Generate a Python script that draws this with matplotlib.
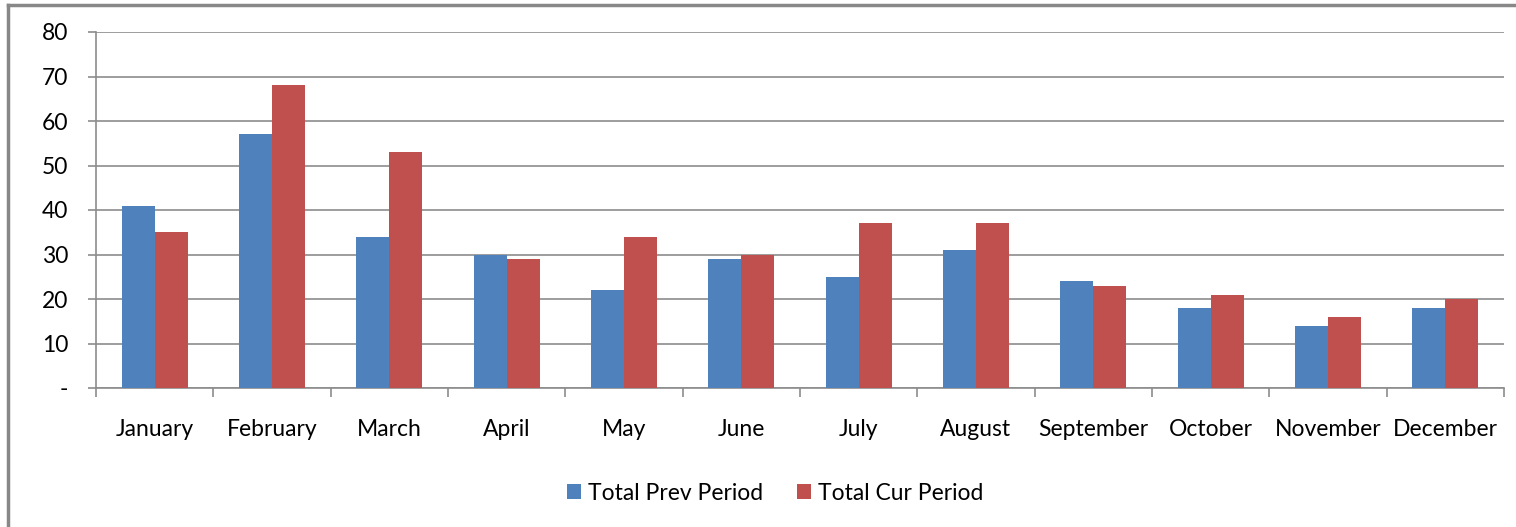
import matplotlib
matplotlib.use("Agg")
import matplotlib.pyplot as plt
import numpy as np
from matplotlib.lines import Line2D

plt.rcParams["font.family"] = ["Lato", "DejaVu Sans"]

months = ["January", "February", "March", "April", "May", "June",
          "July", "August", "September", "October", "November", "December"]
prev_period = [41, 57, 34, 30, 22, 29, 25, 31, 24, 18, 14, 18]
cur_period = [35, 68, 53, 29, 34, 30, 37, 37, 23, 21, 16, 20]
y_ticks = [0, 10, 20, 30, 40, 50, 60, 70, 80]
y_labels = ["-", "10", "20", "30", "40", "50", "60", "70", "80"]

BLUE = "#4F81BD"
RED = "#C0504D"
GRID = "#8C8C8C"
FS = 16.5

fig = plt.figure(figsize=(15.16, 5.27), dpi=100)
ax = fig.add_axes([96 / 1516, 1 - 388 / 527, 1408 / 1516, 356 / 527])

x = np.arange(len(months))
w = 0.28
ax.bar(x - w / 2, prev_period, w, color=BLUE, zorder=3, label="Total Prev Period")
ax.bar(x + w / 2, cur_period, w, color=RED, zorder=3, label="Total Cur Period")

ax.set_xlim(-0.5, len(months) - 0.5)
ax.set_ylim(0, 80)
ax.set_yticks(y_ticks)
ax.set_yticklabels(y_labels)
ax.yaxis.grid(True, color=GRID, linewidth=1.2, zorder=0)

# category labels at centres, tick marks between categories
ax.set_xticks(x)
ax.set_xticklabels(months)
ax.tick_params(axis="x", length=0, pad=22, labelsize=FS)
ax.set_xticks(np.arange(-0.5, len(months)), minor=True)
ax.tick_params(axis="x", which="minor", length=6.5, color=GRID, width=1.2)
ax.tick_params(axis="y", length=6, color=GRID, width=1.2, pad=14, labelsize=FS)

for side in ["top", "right"]:
    ax.spines[side].set_visible(False)
for side in ["left", "bottom"]:
    ax.spines[side].set_color(GRID)
    ax.spines[side].set_linewidth(1.2)

fig.legend(loc="center", bbox_to_anchor=(775 / 1516, 1 - 493 / 527), ncol=2,
           frameon=False, fontsize=FS, handlelength=0.6, handleheight=0.6,
           handletextpad=0.3, columnspacing=1.5)

# outer chart frame (top and left edges visible)
fig.add_artist(Line2D([8 / 1516, 1.0], [1 - 5 / 527] * 2, color="#888888",
                      linewidth=2.5, transform=fig.transFigure))
fig.add_artist(Line2D([8 / 1516] * 2, [0.0, 1 - 5 / 527], color="#888888",
                      linewidth=2.5, transform=fig.transFigure))

fig.savefig("out.png", dpi=100, facecolor="white")
